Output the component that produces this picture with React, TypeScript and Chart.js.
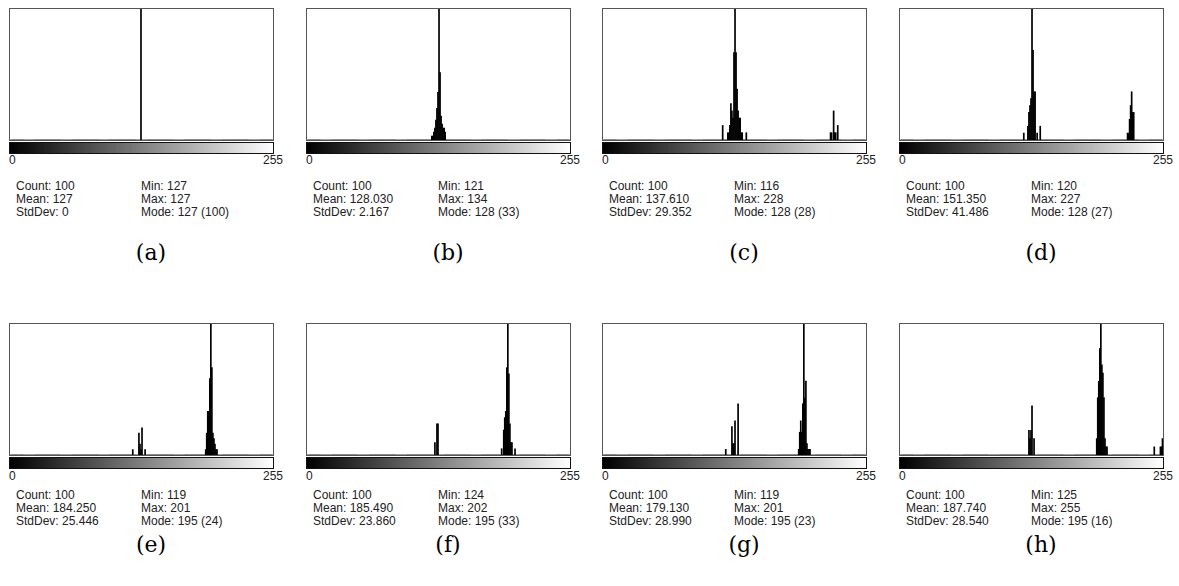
import React, { useEffect, useRef } from "react";
import { Chart, registerables } from "chart.js";

Chart.register(...registerables);

// ---- data: one pair of (bins, counts) per panel ----
const panelLabels = ["(a)", "(b)", "(c)", "(d)", "(e)", "(f)", "(g)", "(h)"];

const binsA = [127];
const countsA = [100];

const binsB = [121, 122, 123, 124, 125, 126, 127, 128, 129, 130, 131, 132, 133, 134];
const countsB = [1, 1, 2, 3, 5, 8, 12, 33, 17, 6, 4, 3, 3, 2];

const binsC = [116, 121, 122, 123, 124, 125, 126, 127, 128, 129, 130, 131, 132, 133, 134, 135, 139, 221, 222, 224, 225, 226, 228];
const countsC = [2, 1, 1, 2, 5, 4, 3, 12, 28, 12, 7, 4, 3, 3, 1, 1, 1, 1, 1, 4, 1, 1, 2];

const binsD = [120, 124, 125, 126, 127, 128, 129, 130, 131, 133, 136, 221, 222, 223, 224, 225, 226, 227];
const countsD = [1, 2, 4, 5, 6, 27, 13, 7, 7, 1, 2, 1, 1, 3, 5, 7, 4, 4];

const binsE = [119, 125, 126, 127, 128, 131, 190, 191, 192, 193, 194, 195, 196, 197, 198, 199, 200, 201];
const countsE = [1, 4, 2, 1, 5, 1, 1, 4, 8, 8, 14, 24, 16, 4, 3, 2, 1, 1];

const binsF = [124, 126, 127, 189, 191, 192, 193, 194, 195, 196, 197, 198, 199, 202];
const countsF = [2, 5, 5, 1, 4, 6, 7, 14, 33, 13, 5, 2, 2, 1];

const binsG = [119, 125, 126, 127, 128, 131, 190, 191, 192, 193, 194, 195, 196, 197, 198, 199, 200, 201];
const countsG = [1, 5, 2, 2, 6, 9, 1, 4, 6, 4, 9, 23, 10, 13, 2, 1, 1, 1];

const binsH = [125, 126, 127, 128, 130, 191, 192, 193, 194, 195, 196, 197, 198, 199, 200, 201, 247, 253, 254, 255];
const countsH = [3, 2, 3, 6, 2, 2, 7, 9, 13, 16, 11, 10, 7, 2, 1, 1, 1, 1, 1, 2];

const panelBins = [binsA, binsB, binsC, binsD, binsE, binsF, binsG, binsH];
const panelCounts = [countsA, countsB, countsC, countsD, countsE, countsF, countsG, countsH];

// ---- statistics texts ----
const statCount = ["100", "100", "100", "100", "100", "100", "100", "100"];
const statMean = ["127", "128.030", "137.610", "151.350", "184.250", "185.490", "179.130", "187.740"];
const statStdDev = ["0", "2.167", "29.352", "41.486", "25.446", "23.860", "28.990", "28.540"];
const statMin = ["127", "121", "116", "120", "119", "124", "119", "125"];
const statMax = ["127", "134", "228", "227", "201", "202", "201", "255"];
const statMode = ["127 (100)", "128 (33)", "128 (28)", "128 (27)", "195 (24)", "195 (33)", "195 (23)", "195 (16)"];
const axisTickLabels = ["0", "255"];
const binLabels = Array.from({ length: 256 }, (_, i) => String(i));

// ---- layout ----
const colLeft = [9, 306, 602, 899];
const rowTop = [8, 323];
const PLOT_W = 265;
const PLOT_H = 133;
const tickY = [160, 476];
const statY = [[186, 199, 212], [495, 508, 521]];
const captionY = [253, 545];

const sansFont = "'Liberation Sans', Arial, sans-serif";

function Histogram({ bins, counts }: { bins: number[]; counts: number[] }) {
  const ref = useRef<HTMLCanvasElement | null>(null);
  useEffect(() => {
    const full: number[] = binLabels.map(() => 0);
    bins.forEach((b, i) => {
      full[b] = counts[i];
    });
    // ImageJ display scaling: clip a dominant mode to 1.5x the second-largest bin
    let mode = 0;
    full.forEach((v, i) => {
      if (v > full[mode]) mode = i;
    });
    let second = 0;
    full.forEach((v, i) => {
      if (i !== mode && v > second) second = v;
    });
    let hmax = full[mode];
    if (hmax > second * 2 && second !== 0) hmax = Math.floor(second * 1.5);

    const chart = new Chart(ref.current as HTMLCanvasElement, {
      type: "bar",
      data: {
        labels: binLabels,
        datasets: [
          {
            data: full,
            backgroundColor: "#000000",
            borderWidth: 0,
            barPercentage: 1,
            categoryPercentage: 1,
          },
        ],
      },
      options: {
        animation: false,
        responsive: false,
        maintainAspectRatio: false,
        events: [],
        layout: { padding: 0 },
        plugins: { legend: { display: false }, tooltip: { enabled: false } },
        scales: {
          x: { display: false },
          y: { display: false, min: 0, max: hmax },
        },
      },
    });
    return () => chart.destroy();
  }, [bins, counts]);
  return (
    <canvas
      ref={ref}
      width={PLOT_W - 2}
      height={PLOT_H - 2}
      style={{ display: "block", width: PLOT_W - 2, height: PLOT_H - 2 }}
    />
  );
}

function Panel({ idx }: { idx: number }) {
  const row = Math.floor(idx / 4);
  const L = colLeft[idx % 4];
  const T = rowTop[row];
  const textStyle: React.CSSProperties = {
    position: "absolute",
    fontFamily: sansFont,
    fontSize: 12,
    lineHeight: "14px",
    height: 14,
    color: "#222",
    whiteSpace: "nowrap",
  };
  const col1 = [
    "Count: " + statCount[idx],
    "Mean: " + statMean[idx],
    "StdDev: " + statStdDev[idx],
  ];
  const col2 = ["Min: " + statMin[idx], "Max: " + statMax[idx], "Mode: " + statMode[idx]];
  return (
    <>
      <div
        style={{
          position: "absolute",
          left: L,
          top: T,
          width: PLOT_W,
          height: PLOT_H,
          boxSizing: "border-box",
          border: "1px solid #555",
          background: "#fff",
        }}
      >
        <Histogram bins={panelBins[idx]} counts={panelCounts[idx]} />
      </div>
      <div
        style={{
          position: "absolute",
          left: L,
          top: T + PLOT_H + 1,
          width: PLOT_W,
          height: 12,
          boxSizing: "border-box",
          border: "1px solid #111",
          background: "linear-gradient(to right, #000, #fff)",
        }}
      />
      <div style={{ ...textStyle, left: L, top: tickY[row] - 7 }}>{axisTickLabels[0]}</div>
      <div style={{ ...textStyle, left: L + 254, top: tickY[row] - 7, width: 20, textAlign: "right" }}>
        {axisTickLabels[1]}
      </div>
      {col1.map((s, i) => (
        <div key={"c1" + i} style={{ ...textStyle, left: L + 7, top: statY[row][i] - 7 }}>
          {s}
        </div>
      ))}
      {col2.map((s, i) => (
        <div key={"c2" + i} style={{ ...textStyle, left: L + 132, top: statY[row][i] - 7 }}>
          {s}
        </div>
      ))}
      <div
        style={{
          position: "absolute",
          left: L + 142 - 40,
          width: 80,
          textAlign: "center",
          top: captionY[row] - 14,
          height: 28,
          lineHeight: "28px",
          fontFamily: "'DejaVu Serif', serif",
          fontSize: 22,
          color: "#000",
        }}
      >
        {panelLabels[idx]}
      </div>
    </>
  );
}

export default function App() {
  return (
    <div
      style={{
        position: "absolute",
        left: 0,
        top: 0,
        width: 1179,
        height: 586,
        background: "#fff",
        overflow: "hidden",
      }}
    >
      {panelLabels.map((_, i) => (
        <Panel key={i} idx={i} />
      ))}
    </div>
  );
}
